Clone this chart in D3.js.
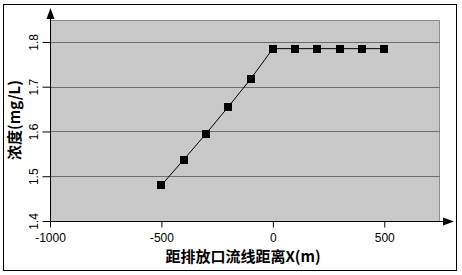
<!DOCTYPE html>
<html>
<head>
<meta charset="utf-8">
<script src="https://cdn.jsdelivr.net/npm/d3@7"></script>
<style>
  body { margin: 0; background: #fff; }
  .tick text { font-family: "Liberation Sans", Arial, sans-serif; font-size: 12px; fill: #000; }
  .title { font-family: "Noto Sans CJK SC", sans-serif; font-weight: bold; font-size: 15px; fill: #000; }
</style>
</head>
<body>
<div id="chart"></div>
<script>
// distance along flow line from outfall (m)
const distances = [-500, -400, -300, -200, -100, 0, 100, 200, 300, 400, 500];
// concentration (mg/L)
const concentration = [1.48, 1.537, 1.595, 1.655, 1.717, 1.785, 1.785, 1.785, 1.785, 1.785, 1.785];
const xTicks = [-1000, -500, 0, 500];
const yTicks = [1.4, 1.5, 1.6, 1.7, 1.8];
const xTitle = '距排放口流线距离X(m)';
const yTitle = '浓度(mg/L)';

const W = 462, H = 275;
const plot = { left: 50, top: 20, right: 440, bottom: 221 };

const svg = d3.select('#chart').append('svg')
    .attr('width', W)
    .attr('height', H);

// outer frame
svg.append('rect')
    .attr('x', 3.5).attr('y', 4.5)
    .attr('width', 453).attr('height', 266)
    .attr('fill', '#fff').attr('stroke', '#000').attr('stroke-width', 1);

const x = d3.scaleLinear().domain([-1000, 750]).range([plot.left, plot.right]);
const y = d3.scaleLinear().domain([1.4, 1.849]).range([plot.bottom, plot.top]);

// plot background
svg.append('rect')
    .attr('x', plot.left).attr('y', plot.top)
    .attr('width', plot.right - plot.left).attr('height', plot.bottom - plot.top)
    .attr('fill', '#c8c8c8');

svg.append('path')
    .attr('d', `M${plot.left},${plot.top + 0.5}H${plot.right - 0.5}V${plot.bottom}`)
    .attr('fill', 'none').attr('stroke', '#8c8c8c');

// grid lines
svg.append('g').selectAll('line')
    .data(yTicks.slice(1))
    .join('line')
    .attr('x1', plot.left).attr('x2', plot.right)
    .attr('y1', d => Math.round(y(d)) + 0.5).attr('y2', d => Math.round(y(d)) + 0.5)
    .attr('stroke', '#6e6e6e');

// axes
const xAxis = svg.append('g')
    .attr('transform', `translate(0,${plot.bottom + 0.5})`)
    .call(d3.axisBottom(x).tickValues(xTicks).tickSize(6).tickPadding(4).tickFormat(d => String(d)));
xAxis.select('.domain').remove();
xAxis.selectAll('.tick line').attr('stroke', '#000');
xAxis.selectAll('.tick text').attr('dy', '0.9em');

const yAxis = svg.append('g')
    .attr('transform', `translate(${plot.left + 0.5},0)`)
    .call(d3.axisLeft(y).tickValues(yTicks).tickSize(8).tickPadding(4).tickFormat(d3.format('.1f')));
yAxis.select('.domain').remove();
yAxis.selectAll('.tick line').attr('stroke', '#000');
yAxis.selectAll('.tick text')
    .attr('transform', 'rotate(-90)')
    .attr('x', 0).attr('y', -13)
    .attr('dy', 0)
    .attr('text-anchor', 'middle');

// axis lines with arrows
svg.append('line')
    .attr('x1', plot.left).attr('x2', 448)
    .attr('y1', plot.bottom + 0.5).attr('y2', plot.bottom + 0.5)
    .attr('stroke', '#000');
svg.append('path')
    .attr('d', `M454,${plot.bottom + 0.5}L443,${plot.bottom - 3.5}L443,${plot.bottom + 4.5}Z`)
    .attr('fill', '#000');
svg.append('line')
    .attr('x1', plot.left + 0.5).attr('x2', plot.left + 0.5)
    .attr('y1', 14).attr('y2', plot.bottom + 4)
    .attr('stroke', '#000');
svg.append('path')
    .attr('d', `M${plot.left + 0.5},8L${plot.left - 3.5},19L${plot.left + 4.5},19Z`)
    .attr('fill', '#000');

// series
const pts = distances.map((d, i) => [d, concentration[i]]);
svg.append('path')
    .datum(pts)
    .attr('d', d3.line().x(d => x(d[0])).y(d => y(d[1])))
    .attr('fill', 'none')
    .attr('stroke', '#000')
    .attr('stroke-width', 1);

svg.append('g').selectAll('rect')
    .data(pts)
    .join('rect')
    .attr('x', d => Math.round(x(d[0])) - 4)
    .attr('y', d => Math.round(y(d[1])) - 4)
    .attr('width', 8).attr('height', 8)
    .attr('fill', '#000');

// titles
svg.append('text')
    .attr('class', 'title')
    .attr('x', 243).attr('y', 262)
    .attr('text-anchor', 'middle')
    .text(xTitle);

svg.append('text')
    .attr('class', 'title')
    .attr('transform', 'translate(20,120) rotate(-90)')
    .attr('text-anchor', 'middle')
    .text(yTitle);
</script>
</body>
</html>
